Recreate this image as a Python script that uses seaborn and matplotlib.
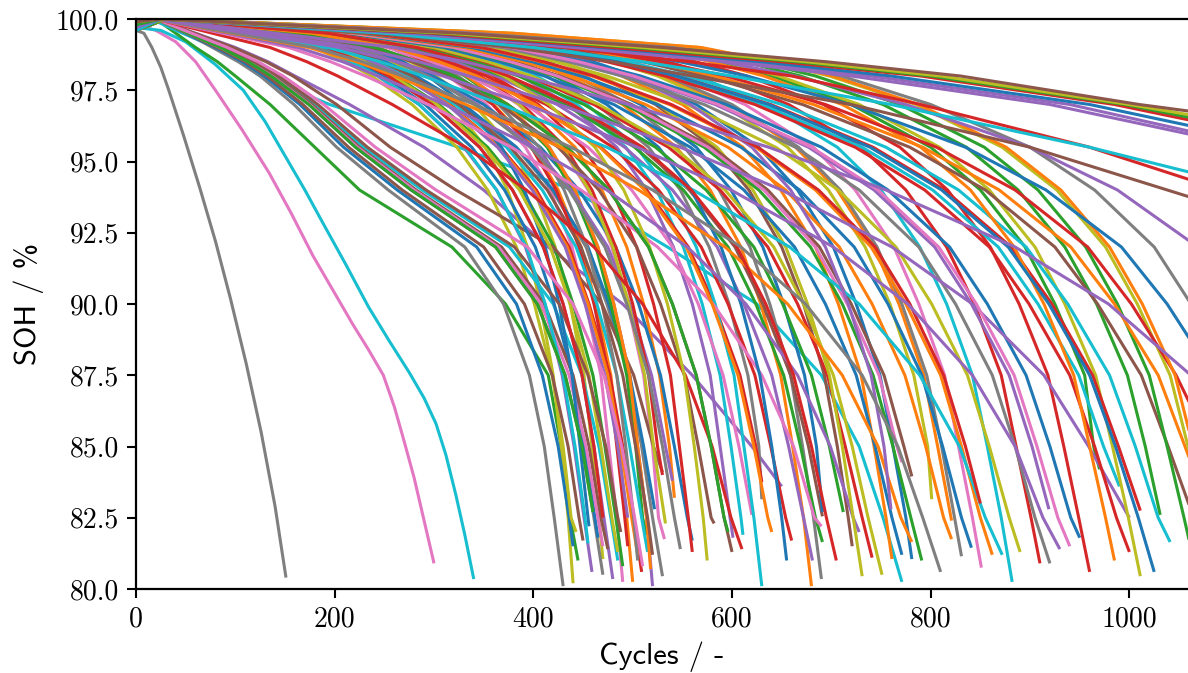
import matplotlib
matplotlib.use("Agg")
import matplotlib.pyplot as plt
import pandas as pd
import seaborn as sns

# three short-lived cells, read point by point: (cycles, SOH %)
short_gray_cycles = [0, 8, 16, 25, 33, 48, 64, 80, 95, 111, 126, 140, 151]
short_gray_soh = [99.6, 99.5, 99.0, 98.3, 97.5, 95.9, 94.1, 92.2, 90.2, 87.9, 85.5, 82.9, 80.4]
short_pink_cycles = [0, 20, 40, 60, 80, 107, 134, 156, 178, 198, 218, 234, 249, 260, 269, 280, 290, 300]
short_pink_soh = [99.8, 99.6, 99.2, 98.5, 97.5, 96.1, 94.6, 93.2, 91.7, 90.5, 89.3, 88.4, 87.5, 86.4, 85.3, 83.9, 82.4, 80.9]
short_cyan_cycles = [0, 25, 50, 80, 108, 130, 150, 170, 188, 211, 234, 255, 275, 290, 302, 312, 322, 331, 340]
short_cyan_soh = [99.7, 99.6, 99.2, 98.4, 97.5, 96.4, 95.2, 94.0, 92.85, 91.4, 89.9, 88.7, 87.6, 86.7, 85.8, 84.7, 83.3, 81.9, 80.35]

# SOH levels (%) at which each remaining cell's crossing cycle is listed
SOH_LEVELS = [100, 99.5, 99, 98.5, 98, 97, 95.5, 94, 92, 90, 87.5, 85, 82.5]

# each cell: (SOH at cycle 0, cycles at which SOH_LEVELS are crossed, last cycle, last SOH)
early_cells = [
    (99.8, [20, 40, 60, 82, 100, 135, 180, 225, 318, 372, 415, 428, 437], 445, 81.0),
    (99.8, [15, 47, 80, 105, 125, 195, 325, 440, 535, 625, 690, 728, 752], 771, 80.25),
    (99.7, [20, 60, 100, 133, 160, 215, 290, 350, 415, 490, 560, 620], 650, 83.6),
]
early_colours = "green cyan purple"

cells_430_560 = [
    (99.6, [25, 51, 77, 103, 125, 159, 202, 254, 331, 370, 396, 411, 421], 430, 80.1),
    (99.7, [30, 159, 229, 258, 282, 317, 352, 374, 394, 407, 420, 428, 435], 440, 80.2),
    (99.8, [20, 50, 80, 107, 129, 165, 209, 263, 343, 383, 409, 425, 436], 440, 81.5),
    (99.6, [25, 125, 179, 211, 237, 278, 323, 354, 383, 401, 419, 430, 438], 443, 82.0),
    (99.7, [20, 51, 82, 110, 132, 168, 214, 268, 350, 391, 419, 435, 446], 450, 81.7),
    (99.8, [25, 128, 184, 216, 243, 285, 330, 363, 392, 411, 429, 441, 451], 459, 80.6),
    (99.6, [30, 170, 245, 276, 302, 340, 378, 401, 422, 437, 451, 459, 466], 470, 81.05),
    (99.7, [22, 53, 85, 113, 136, 174, 221, 277, 362, 404, 432, 449, 461], 470, 80.5),
    (99.8, [25, 134, 192, 226, 254, 298, 346, 379, 410, 430, 449, 461, 471], 480, 80.35),
    (99.7, [30, 176, 255, 287, 314, 353, 392, 417, 439, 453, 468, 476, 484], 490, 80.25),
    (99.6, [25, 137, 197, 232, 261, 305, 354, 389, 421, 440, 460, 472, 483], 490, 80.8),
    (99.8, [30, 180, 260, 293, 320, 360, 400, 425, 448, 463, 478, 486, 494], 500, 80.25),
    (99.7, [25, 141, 204, 240, 270, 316, 367, 403, 436, 456, 477, 490, 501], 509, 80.6),
    (99.6, [30, 186, 270, 305, 333, 374, 416, 442, 465, 481, 497, 505, 514], 520, 80.1),
    (99.8, [25, 147, 212, 250, 281, 329, 382, 419, 453, 474, 496, 509, 520], 530, 80.45),
    (99.7, [30, 191, 278, 313, 342, 385, 428, 455, 479, 495, 511, 520, 526], 532, 81.75),
    (99.6, [25, 147, 213, 251, 282, 330, 383, 420, 455, 476, 497, 511], 522, 82.8),
    (99.8, [30, 197, 287, 323, 353, 397, 442, 469, 494, 511, 527, 537], 542, 83.2),
    (99.7, [20, 59, 98, 131, 158, 202, 256, 322, 420, 469, 501, 521], 530, 84.1),
    (99.6, [25, 156, 226, 266, 299, 350, 407, 446, 483, 506, 528, 542, 555], 560, 81.7),
    (99.8, [30, 201, 293, 330, 360, 405, 450, 479, 504, 521, 538, 547, 556], 560, 81.3),
    (99.7, [20, 54, 88, 118, 142, 181, 229, 288, 376, 420, 449, 466, 478], 485, 81.0),
    (99.8, [25, 131, 188, 222, 249, 291, 338, 371, 402, 421, 439, 451, 462], 465, 81.8),
    (99.6, [22, 54, 86, 115, 139, 177, 225, 282, 368, 411, 440, 456, 468], 475, 81.4),
    (99.7, [30, 179, 259, 292, 319, 359, 398, 423, 446, 461, 476, 484, 492], 495, 81.5),
    (99.8, [25, 141, 203, 239, 269, 315, 366, 401, 434, 455, 475, 488, 499], 505, 81.2),
    (99.6, [30, 185, 269, 303, 331, 372, 414, 439, 463, 478, 494, 503, 510], 514, 81.9),
    (99.7, [25, 143, 207, 244, 275, 321, 373, 409, 443, 464, 484, 497, 509], 515, 81.3),
    (99.8, [20, 52, 85, 114, 137, 175, 223, 280, 365, 408, 436, 453, 465], 470, 81.5),
    (99.6, [30, 166, 239, 269, 294, 331, 368, 391, 412, 426, 439, 447], 456, 82.2),
    (99.7, [25, 140, 202, 238, 268, 313, 364, 399, 432, 452, 472, 485], 495, 82.5),
    (99.8, [25, 136, 195, 230, 259, 303, 351, 386, 417, 437, 456, 468, 479], 485, 81.3),
    (99.6, [30, 182, 264, 297, 324, 365, 406, 431, 454, 469, 484, 493, 501], 505, 81.0),
    (99.7, [20, 54, 89, 119, 144, 183, 233, 292, 381, 426, 455, 473, 485], 488, 82.0),
    (99.8, [25, 134, 192, 226, 254, 298, 346, 379, 410, 430, 449, 461], 470, 82.5),
    (99.6, [25, 128, 184, 217, 244, 285, 331, 363, 393, 412, 430, 442, 452], 455, 81.6),
    (99.7, [30, 186, 270, 305, 333, 374, 416, 442, 465, 481, 497, 505, 514], 518, 80.7),
    (99.8, [20, 52, 85, 113, 136, 174, 221, 277, 362, 404, 432, 449], 460, 82.7),
    (99.6, [25, 153, 222, 262, 294, 344, 400, 438, 475, 497, 519, 533], 540, 83.8),
    (99.7, [30, 193, 281, 317, 346, 389, 432, 459, 483, 500, 516, 525], 530, 84.0),
    (99.8, [20, 56, 92, 123, 148, 189, 241, 302, 394, 440, 471, 489, 502], 510, 80.8),
    (99.6, [30, 192, 279, 314, 343, 386, 429, 456, 480, 496, 512, 521], 533, 82.3),
    (99.7, [25, 152, 221, 261, 293, 342, 397, 436, 472, 494, 516, 530, 542], 548, 81.4),
    (99.8, [25, 145, 210, 247, 278, 325, 377, 414, 448, 469, 490, 503, 515], 520, 81.2),
]
colours_430_560 = ("gray olive blue olive brown purple olive gray purple pink "
                   "green orange red purple gray pink blue orange brown blue "
                   "red cyan blue brown red orange green cyan pink blue "
                   "purple olive gray brown red cyan orange green purple red "
                   "pink olive gray brown")

cells_560_700 = [
    (99.7, [25, 162, 236, 278, 313, 366, 425, 466, 504, 528, 552, 566, 579], 582, 82.3),
    (99.8, [30, 215, 315, 355, 387, 436, 484, 514, 541, 560, 578, 588, 598], 601, 81.8),
    (99.6, [25, 165, 241, 284, 320, 374, 434, 476, 516, 540, 564, 579, 592], 600, 81.3),
    (99.7, [20, 77, 135, 172, 203, 258, 332, 393, 461, 510, 553, 580, 599], 610, 81.4),
    (99.8, [30, 218, 320, 361, 394, 444, 493, 524, 551, 570, 588, 599, 609], 611, 81.9),
    (99.6, [25, 173, 253, 298, 335, 392, 455, 499, 540, 566, 591, 607], 620, 82.6),
    (99.7, [30, 228, 335, 378, 413, 464, 516, 548, 577, 597, 616, 627], 630, 83.15),
    (99.8, [25, 178, 260, 307, 345, 403, 468, 514, 556, 582, 608, 624], 630, 83.75),
    (99.6, [30, 224, 328, 369, 403, 454, 504, 536, 564, 583, 602, 612, 622], 630, 80.1),
    (99.7, [25, 182, 266, 314, 353, 413, 480, 526, 569, 596, 623, 639, 654], 660, 81.7),
    (99.8, [30, 241, 354, 399, 435, 490, 544, 578, 609, 629, 649, 661, 672], 680, 80.1),
    (99.6, [25, 187, 274, 323, 363, 424, 492, 540, 585, 612, 640, 657, 672], 681, 81.0),
    (99.7, [30, 244, 359, 405, 442, 497, 552, 587, 618, 638, 659, 671, 682], 690, 80.35),
    (99.8, [25, 190, 279, 329, 369, 432, 502, 551, 596, 624, 652, 669, 684], 691, 81.65),
    (99.6, [20, 87, 154, 196, 231, 294, 378, 448, 525, 581, 630, 662, 683], 690, 82.2),
    (99.7, [25, 192, 282, 333, 374, 437, 508, 557, 603, 631, 659, 677], 691, 82.55),
    (99.8, [30, 249, 367, 413, 451, 508, 564, 599, 631, 652, 673, 685], 691, 82.7),
    (99.6, [30, 206, 301, 339, 370, 416, 462, 491, 517, 535, 552, 562, 571], 575, 81.0),
    (99.7, [25, 165, 241, 284, 320, 374, 434, 476, 516, 540, 564, 579, 592], 596, 82.0),
    (99.8, [25, 177, 259, 305, 343, 402, 467, 512, 554, 580, 606, 622, 636], 640, 82.0),
    (99.6, [30, 233, 342, 385, 421, 474, 526, 559, 589, 609, 628, 640, 650], 655, 81.0),
]
colours_560_700 = ("brown purple brown red cyan pink gray red cyan red "
                   "orange purple gray green pink brown blue olive green orange blue")

cells_700_900 = [
    (99.7, [25, 198, 291, 343, 385, 451, 523, 574, 622, 651, 680, 698], 712, 82.7),
    (99.8, [30, 256, 378, 426, 465, 523, 581, 617, 650, 672, 693, 706, 717], 721, 81.5),
    (99.6, [20, 92, 163, 208, 244, 311, 400, 474, 555, 614, 666, 699, 722], 728, 82.0),
    (99.7, [25, 202, 298, 351, 394, 461, 536, 588, 636, 666, 696, 714, 731], 741, 81.1),
    (99.8, [30, 258, 380, 428, 468, 526, 585, 621, 654, 676, 698, 711, 722], 731, 80.45),
    (99.6, [25, 204, 300, 354, 398, 466, 541, 593, 642, 672, 702, 721, 737], 751, 80.5),
    (99.7, [30, 269, 397, 448, 489, 550, 611, 649, 684, 707, 730, 743, 755], 761, 81.05),
    (99.8, [25, 210, 310, 366, 411, 481, 558, 612, 663, 694, 725, 744, 761], 771, 81.2),
    (99.6, [30, 276, 408, 460, 502, 564, 627, 666, 702, 725, 749, 762, 775], 781, 81.05),
    (99.7, [25, 215, 318, 375, 421, 492, 572, 627, 679, 711, 742, 762, 780], 791, 81.0),
    (99.8, [20, 97, 174, 222, 261, 332, 427, 506, 593, 656, 711, 747, 770], 781, 81.65),
    (99.6, [25, 218, 322, 380, 427, 499, 580, 636, 688, 720, 753, 773], 781, 83.95),
    (99.7, [30, 287, 426, 480, 525, 590, 656, 697, 734, 759, 783, 797], 801, 83.15),
    (99.8, [25, 217, 320, 377, 424, 496, 576, 632, 684, 716, 748, 766], 771, 84.45),
    (99.6, [30, 291, 432, 486, 531, 598, 664, 706, 743, 768, 793, 807], 821, 82.4),
    (99.7, [25, 224, 331, 390, 439, 513, 596, 654, 708, 741, 774, 795, 813], 821, 81.75),
    (99.8, [30, 293, 434, 489, 534, 600, 667, 709, 746, 771, 796, 811, 824], 831, 81.15),
    (99.6, [25, 228, 338, 399, 448, 525, 609, 668, 723, 757, 791, 812, 831], 841, 81.45),
    (99.7, [30, 298, 443, 499, 545, 613, 682, 724, 763, 788, 814, 828, 842], 851, 80.75),
    (99.8, [25, 234, 346, 408, 459, 537, 624, 684, 740, 775, 810, 831, 850], 862, 81.2),
    (99.6, [20, 107, 193, 246, 289, 368, 474, 561, 658, 728, 789, 829, 855], 872, 81.2),
    (99.7, [30, 309, 459, 517, 564, 635, 706, 750, 789, 816, 842, 857, 871], 882, 80.25),
    (99.8, [25, 241, 358, 422, 474, 555, 644, 707, 765, 801, 837, 859, 879], 890, 81.3),
    (99.6, [25, 193, 283, 334, 375, 439, 510, 559, 605, 634, 662, 680, 695], 705, 81.0),
    (99.7, [30, 272, 403, 454, 496, 558, 620, 659, 694, 717, 740, 753], 760, 82.8),
    (99.8, [20, 100, 179, 228, 268, 341, 438, 520, 609, 674, 731, 767, 792], 810, 80.6),
    (99.6, [25, 235, 348, 410, 461, 539, 626, 687, 744, 779, 813, 835], 850, 83.0),
]
colours_700_900 = ("green brown purple red olive olive orange blue blue green "
                   "orange brown olive pink orange orange gray blue pink orange "
                   "cyan cyan olive red purple gray red")

cells_900_1060 = [
    (99.7, [30, 319, 474, 535, 584, 657, 730, 775, 816, 844, 871, 886, 901], 910, 80.9),
    (99.8, [25, 249, 369, 435, 489, 572, 664, 728, 788, 825, 862, 885, 905], 920, 80.9),
    (99.6, [20, 113, 206, 263, 309, 393, 505, 599, 702, 777, 842, 885, 913], 930, 81.4),
    (99.7, [25, 258, 383, 452, 508, 594, 690, 757, 819, 857, 896, 920, 941], 950, 81.8),
    (99.8, [30, 336, 500, 563, 615, 692, 769, 817, 860, 889, 918, 934, 949], 960, 80.6),
    (99.6, [25, 253, 376, 443, 498, 583, 677, 743, 804, 841, 879, 902], 919, 82.8),
    (99.7, [30, 349, 520, 586, 640, 720, 800, 850, 895, 925, 955, 964], 970, 84.2),
    (99.8, [25, 273, 406, 479, 538, 629, 731, 802, 868, 908, 949, 974], 990, 83.6),
    (99.6, [20, 122, 223, 285, 335, 426, 548, 650, 761, 842, 914, 959], 1000, 82.5),
    (99.7, [25, 270, 402, 474, 533, 623, 724, 794, 859, 899, 940, 965, 987], 1000, 81.3),
    (99.8, [30, 352, 526, 593, 647, 728, 809, 859, 905, 935, 966, 983, 999], 1011, 80.45),
    (99.6, [25, 277, 412, 486, 546, 639, 742, 814, 881, 922, 963, 989], 1011, 82.75),
    (99.7, [30, 363, 543, 612, 669, 752, 836, 888, 935, 967, 998, 1016], 1031, 82.6),
    (99.8, [25, 281, 419, 494, 555, 650, 755, 828, 896, 938, 980, 1006, 1029], 1041, 81.65),
    (99.6, [30, 345, 514, 579, 632, 711, 790, 840, 884, 914, 944, 960, 976], 985, 81.0),
    (99.7, [25, 276, 411, 484, 544, 637, 739, 811, 878, 919, 960, 986, 1009], 1025, 80.6),
    (99.8, [25, 254, 378, 446, 501, 586, 680, 747, 808, 846, 884, 907, 928], 940, 81.5),
]
colours_900_1060 = ("red gray purple blue red purple green cyan purple red "
                    "olive red green cyan orange blue pink")

# cells still running past the right edge of the view
cells_long_life = [
    (99.7, [25, 290, 433, 510, 573, 671, 779, 855, 925, 968, 1012, 1039], 1075, 81.5),
    (99.6, [30, 371, 555, 626, 684, 769, 854, 908, 956, 988, 1020, 1038, 1055], 1068, 80.5),
    (99.8, [25, 295, 440, 519, 583, 682, 792, 869, 941, 985, 1029, 1056], 1075, 83.2),
    (99.7, [30, 379, 567, 639, 698, 785, 872, 927, 976, 1008, 1041, 1059], 1075, 83.0),
    (99.6, [25, 300, 448, 528, 594, 694, 806, 885, 958, 1002, 1047], 1075, 85.5),
    (99.8, [30, 380, 569, 642, 701, 788, 876, 931, 980, 1013, 1046, 1064], 1075, 83.5),
    (99.7, [20, 140, 260, 331, 389, 496, 637, 755, 885, 979, 1062], 1075, 86.8),
    (99.6, [25, 310, 464, 547, 615, 719, 835, 916, 992, 1038], 1075, 88.0),
    (99.8, [30, 340, 540, 640, 710, 800, 900, 965, 1025], 1075, 89.3),
    (99.7, [25, 334, 500, 590, 663, 775, 900, 988], 1075, 91.85),
    (99.8, [25, 238, 380, 479, 560, 720, 900], 1075, 93.6),
    (99.7, [25, 268, 430, 557, 660, 790, 960], 1075, 94.2),
    (99.6, [25, 250, 400, 510, 600, 760, 960], 1075, 94.5),
    (99.8, [25, 274, 440, 594, 720, 920], 1075, 95.85),
    (99.7, [25, 280, 450, 610, 740, 940], 1075, 95.95),
    (99.8, [25, 292, 470, 630, 760, 960], 1075, 96.15),
    (99.9, [25, 298, 480, 650, 790, 985], 1075, 96.35),
    (99.8, [25, 310, 500, 665, 800, 995], 1075, 96.45),
    (99.9, [25, 316, 510, 675, 810, 1000], 1075, 96.55),
    (99.9, [25, 328, 530, 695, 830, 1010], 1075, 96.7),
]
colours_long_life = ("brown green orange olive red orange purple blue gray purple "
                     "brown red cyan purple purple blue red green olive brown")

X_TICKS = [0, 200, 400, 600, 800, 1000]
Y_TICKS = [80.0, 82.5, 85.0, 87.5, 90.0, 92.5, 95.0, 97.5, 100.0]

TAB10 = {"blue": "#1f77b4", "orange": "#ff7f0e", "green": "#2ca02c",
         "red": "#d62728", "purple": "#9467bd", "brown": "#8c564b",
         "pink": "#e377c2", "gray": "#7f7f7f", "olive": "#bcbd22",
         "cyan": "#17becf"}

rows = []
palette = {}
k = 0
for cyc, soh, col in [(short_gray_cycles, short_gray_soh, "gray"),
                      (short_pink_cycles, short_pink_soh, "pink"),
                      (short_cyan_cycles, short_cyan_soh, "cyan")]:
    name = f"cell{k:03d}"
    rows.extend((name, c, s) for c, s in zip(cyc, soh))
    palette[name] = TAB10[col]
    k += 1

groups = [(early_cells, early_colours), (cells_430_560, colours_430_560),
          (cells_560_700, colours_560_700), (cells_700_900, colours_700_900),
          (cells_900_1060, colours_900_1060), (cells_long_life, colours_long_life)]
for cells, colours in groups:
    for (s0, crossings, end_c, end_s), col in zip(cells, colours.split()):
        name = f"cell{k:03d}"
        rows.append((name, 0, s0))
        for lvl, c in zip(SOH_LEVELS, crossings):
            if c is not None:
                rows.append((name, c, lvl))
        rows.append((name, end_c, end_s))
        palette[name] = TAB10[col]
        k += 1
df = pd.DataFrame(rows, columns=["cell", "cycle", "soh"])

sns.set_theme(style="white")
plt.rcParams["axes.unicode_minus"] = False

W, H = 1188, 673
fig = plt.figure(figsize=(W / 100, H / 100), dpi=100)
ax = fig.add_axes([136 / W, 1 - 589 / H, (W - 136) / W, (589 - 19) / H])

sns.lineplot(data=df, x="cycle", y="soh", hue="cell", hue_order=list(palette),
             palette=palette, estimator=None, sort=False, legend=False,
             linewidth=2.2, ax=ax)
for line in ax.get_lines():
    line.set_solid_joinstyle("round")
    line.set_solid_capstyle("butt")

ax.set_xlim(0, 1059)
ax.set_ylim(80, 100)
ax.set_xticks(X_TICKS)
ax.set_yticks(Y_TICKS)
ax.set_xticklabels([f"{v:d}" for v in X_TICKS])
ax.set_yticklabels([f"{v:.1f}" for v in Y_TICKS])
for lab in ax.get_xticklabels() + ax.get_yticklabels():
    lab.set_fontfamily(["cmr10", "DejaVu Serif"])
    lab.set_fontsize(20)
    lab.set_color("black")

ax.tick_params(axis="both", which="major", direction="out", length=6.5,
               width=1.5, color="black", pad=6, left=True, bottom=True,
               top=False, right=False)
for side in ["left", "bottom", "top"]:
    ax.spines[side].set_visible(True)
    ax.spines[side].set_color("black")
    ax.spines[side].set_linewidth(1.6)
ax.spines["right"].set_visible(False)

ax.set_xlabel("Cycles / -", fontsize=22, family=["cmss10", "DejaVu Sans"],
              color="black", labelpad=6)
ax.set_ylabel("SOH / %", fontsize=22, family=["cmss10", "DejaVu Sans"],
              color="black", labelpad=8)
ax.grid(False)
ax.set_facecolor("white")
fig.patch.set_facecolor("white")

fig.savefig("out.png", dpi=100, facecolor="white")
